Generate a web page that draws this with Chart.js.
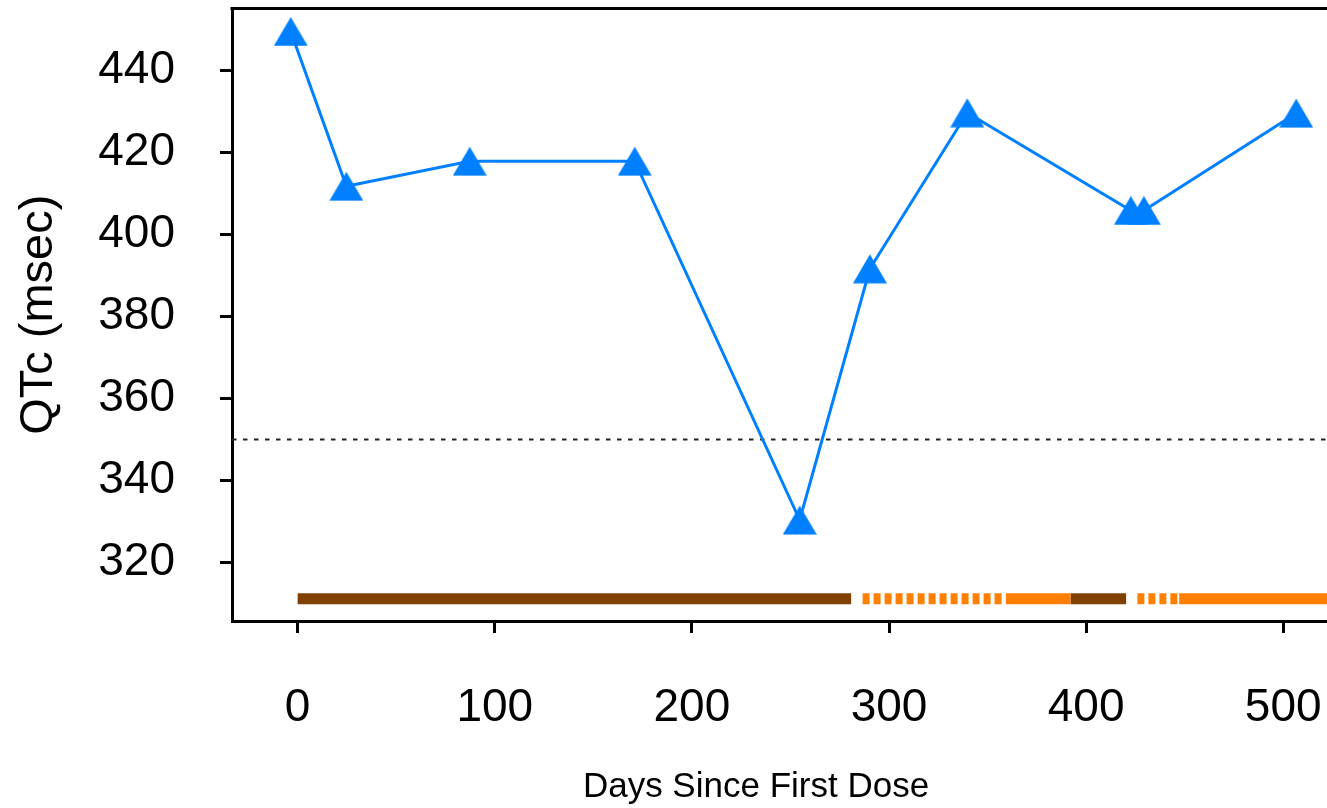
<!DOCTYPE html>
<html lang="en">
<head>
<meta charset="UTF-8" />
<title>QTc by day since first dose</title>
<script src="https://cdn.jsdelivr.net/npm/chart.js"></script>
<style>
  html, body { margin: 0; padding: 0; background: #fff; overflow: hidden; }
  .wrap { position: relative; width: 1327px; height: 808px; }
  /* axis title sits under the tick labels, off the plot's centre */
  .x-title {
    position: absolute; left: 556px; width: 400px; top: 765px;
    text-align: center; line-height: 35px;
    font: 35px 'Liberation Sans', Arial, sans-serif; color: #000;
  }
</style>
</head>
<body>
<div class="wrap">
  <canvas id="qtcChart" width="1327" height="808"></canvas>
  <div class="x-title">Days Since First Dose</div>
</div>

<script>
// QTc readings
const days = [-3.5, 24.7, 87.3, 171.0, 254.7, 290.3, 339.7, 422.7, 429.3, 506.6];
const qtc = [449.4, 411.7, 417.8, 417.8, 330.4, 391.6, 429.6, 405.8, 405.8, 429.5];
const qtcThreshold = 350;

// dosing periods shown as a strip along the bottom
const doseStart = [0, 286.6, 359.3, 392.1, 426.0, 447.2];
const doseEnd = [280.8, 357.4, 392.1, 420.3, 446.5, 522.2];
const doseKind = ['full', 'interrupted', 'reduced', 'full', 'interrupted', 'reduced'];
const doseRow = 311.2;

const dayTicks = [0, 100, 200, 300, 400, 500];
const qtcTicks = [320, 340, 360, 380, 400, 420, 440];

const xMin = -33.3, xMax = 522.2;
const yMin = 305.8, yMax = 455;

const FONT = "'Liberation Sans', Arial, sans-serif";
const BLUE = '#0080ff';
const doseColor = { full: '#804000', reduced: '#ff8000', interrupted: '#ff8000' };

// filled triangle marker, centred on its bounding box
const marker = document.createElement('canvas');
marker.width = 34;
marker.height = 30;
const mctx = marker.getContext('2d');
mctx.fillStyle = BLUE;
mctx.beginPath();
mctx.moveTo(17, 0.5);
mctx.lineTo(34, 29.5);
mctx.lineTo(0, 29.5);
mctx.closePath();
mctx.fill();

const qtcSet = {
  data: days.map((d, i) => ({ x: d, y: qtc[i] })),
  borderColor: BLUE,
  borderWidth: 3,
  pointStyle: marker,
  pointRadius: 17,
  pointBackgroundColor: BLUE,
  tension: 0,
};

const thresholdSet = {
  data: [{ x: xMin, y: qtcThreshold }, { x: xMax, y: qtcThreshold }],
  borderColor: '#222',
  borderWidth: 2,
  borderDash: [4.5, 6.5],
  pointRadius: 0,
};

const doseSets = doseStart.map((s, i) => ({
  data: [{ x: s, y: doseRow }, { x: doseEnd[i], y: doseRow }],
  borderColor: doseColor[doseKind[i]],
  borderWidth: 11,
  borderDash: doseKind[i] === 'interrupted' ? [7, 4] : [],
  borderCapStyle: 'butt',
  pointRadius: 0,
}));

// top edge of the plot frame
const frameTop = {
  id: 'frameTop',
  beforeDatasetsDraw(chart) {
    const { ctx, chartArea } = chart;
    ctx.save();
    ctx.strokeStyle = '#000';
    ctx.lineWidth = 3;
    ctx.beginPath();
    ctx.moveTo(chartArea.left - 1.5, chartArea.top);
    ctx.lineTo(chartArea.right, chartArea.top);
    ctx.stroke();
    ctx.restore();
  },
};

// fixed axis boxes; no extra room reserved for end labels
const fitX = (axis) => {
  axis.height = 187;
  axis.paddingLeft = 0;
  axis.paddingRight = 0;
};
const fitY = (axis) => {
  axis.width = 232;
  axis.paddingTop = 0;
  axis.paddingBottom = 0;
};

new Chart(document.getElementById('qtcChart'), {
  type: 'line',
  data: { datasets: [qtcSet, thresholdSet, ...doseSets] },
  options: {
    responsive: false,
    animation: false,
    devicePixelRatio: 1,
    layout: { autoPadding: false, padding: { top: 8.5, right: 0, bottom: 0, left: 0 } },
    plugins: { legend: { display: false }, tooltip: { enabled: false } },
    scales: {
      x: {
        type: 'linear',
        min: xMin,
        max: xMax,
        afterBuildTicks: (axis) => { axis.ticks = dayTicks.map((v) => ({ value: v })); },
        afterFit: fitX,
        grid: { drawOnChartArea: false, tickLength: 12, tickWidth: 3, tickColor: '#000' },
        border: { display: true, color: '#000', width: 3 },
        ticks: { color: '#000', font: { family: FONT, size: 46 }, padding: 48, maxRotation: 0, autoSkip: false },
      },
      y: {
        type: 'linear',
        min: yMin,
        max: yMax,
        afterBuildTicks: (axis) => { axis.ticks = qtcTicks.map((v) => ({ value: v })); },
        afterFit: fitY,
        grid: { drawOnChartArea: false, tickLength: 12, tickWidth: 3, tickColor: '#000' },
        border: { display: true, color: '#000', width: 3 },
        ticks: { color: '#000', font: { family: FONT, size: 46 }, padding: 45 },
        title: {
          display: true,
          text: 'QTc (msec)',
          color: '#000',
          font: { family: FONT, size: 47 },
          padding: { top: 11, bottom: 0 },
        },
      },
    },
  },
  plugins: [frameTop],
});
</script>
</body>
</html>
